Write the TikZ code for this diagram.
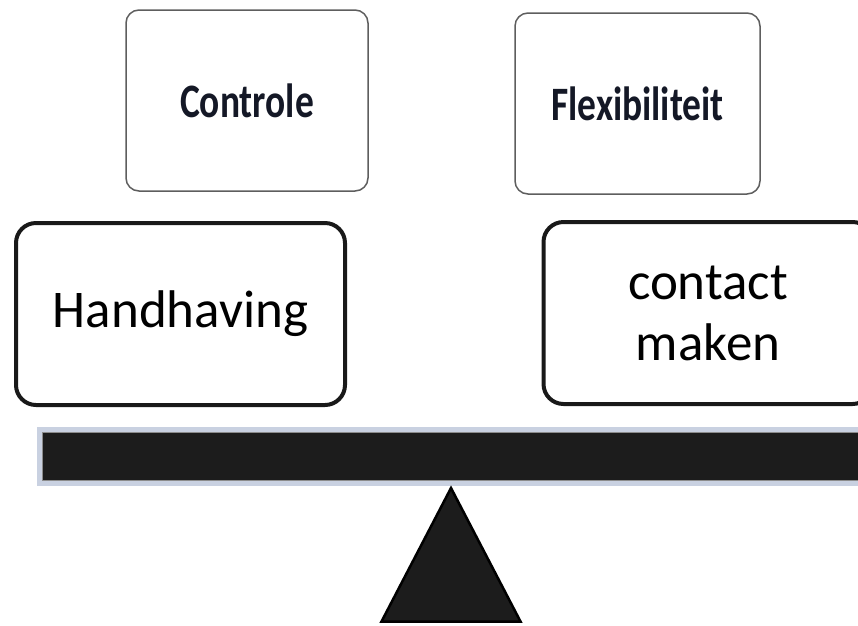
\documentclass[tikz,border=0pt]{standalone}
\usepackage{fontspec}
\setmainfont{Carlito}
\usepackage{graphicx}
\definecolor{beamfill}{HTML}{1C1C1C}
\definecolor{beamedge}{HTML}{C9D1E1}
\definecolor{thinedge}{HTML}{5E5E5E}
\definecolor{darkink}{HTML}{141826}
\newcommand{\narrow}[1]{\scalebox{0.78}[1]{#1}}
\begin{document}
\begin{tikzpicture}[x=1pt,y=-1pt,
  smallbox/.style={draw=thinedge, line width=1.5pt, rounded corners=13pt, fill=white,
    minimum width=242pt, minimum height=181pt, inner sep=0pt,
    font=\fontsize{48}{58}\selectfont\bfseries, text=darkink},
  bigbox/.style={draw=black!90, line width=4pt, rounded corners=20pt, fill=white,
    minimum width=329pt, minimum height=182pt, inner sep=0pt, align=center,
    font=\fontsize{53}{61}\selectfont}]
  \useasboundingbox (0,0) rectangle (858,625);
  \node[smallbox] (controle) at (247,100.5) {\narrow{Controle}};
  \node[smallbox, minimum width=245pt] (flex) at (637.5,103.5) {\narrow{Flexibiliteit}};
  \node[bigbox] (handhaving) at (180.5,314) {Handhaving};
  \node[bigbox] (contact) at (708,313) {contact\\maken};
  % wip
  \draw[beamedge, line width=5pt, fill=beamfill] (39.5,429.5) rectangle (890,483.5);
  \draw[black!45, line width=0.8pt] (42.4,432.4) rectangle (890,480.6);
  % steunpunt
  \coordinate (top) at (451,488);
  \draw[black, line width=2.5pt, fill=beamfill, line join=miter] (top) -- (520.5,621.5) -- (381.5,621.5) -- cycle;
\end{tikzpicture}
\end{document}
